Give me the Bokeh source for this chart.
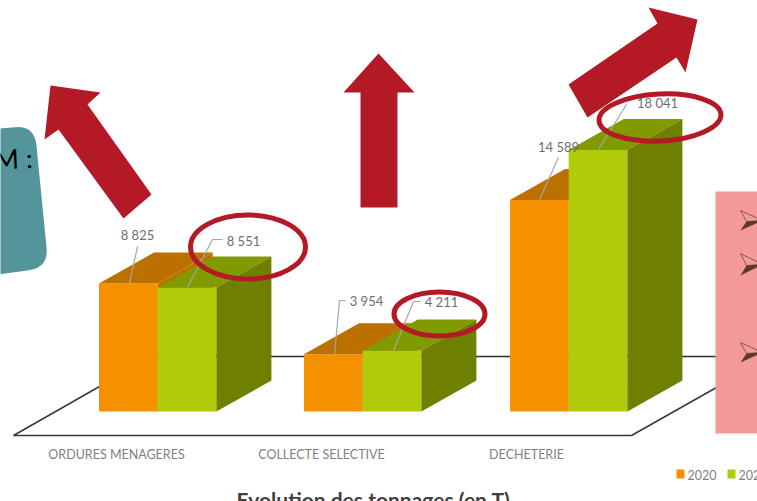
from bokeh.core.properties import value
from bokeh.embed import file_html
from bokeh.models import Range1d
from bokeh.plotting import figure
from bokeh.resources import INLINE
import numpy as np

# Tonnages per collection stream
categories = ["ORDURES MENAGERES", "COLLECTE SELECTIVE", "DECHETERIE"]
years = ["2020", "2021"]
tonnes_2020 = [8825, 3954, 14589]
tonnes_2021 = [8551, 4211, 18041]
labels_2020 = ["8 825", "3 954", "14 589"]
labels_2021 = ["8 551", "4 211", "18 041"]

# Layout of the sketched 3D columns, in canvas pixels
W, H = 757, 501
BASE_Y = 411
PX_PER_TONNE = 0.0145
BAR_LEFT = [98.5, 303.5, 509.5]
BAR_W = 58.7
DEPTH_X, DEPTH_Y = 55, 31
DEPTH_T = DEPTH_Y / PX_PER_TONNE

ORANGE, ORANGE_TOP = "#F59100", "#BC7000"
GREEN, GREEN_TOP, GREEN_SIDE = "#B0CC08", "#819A00", "#6F8000"
RED = "#B41A26"
GREY = "#7F7F7F"
FONT = value("Lato")

p = figure(width=W, height=H, x_range=Range1d(0, W), y_range=Range1d(H, 0),
           x_axis_type=None, y_axis_type=None, toolbar_location=None,
           output_backend="svg", min_border=0, outline_line_color=None,
           background_fill_color="white")
p.grid.visible = False
p.extra_y_ranges = {"t": Range1d(-(H - BASE_Y) / PX_PER_TONNE, BASE_Y / PX_PER_TONNE)}


def rounded(points, r):
    """Polygon outline with its corners replaced by quadratic curves."""
    xs, ys = [], []
    pts = [np.array(q, float) for q in points]
    for i, q in enumerate(pts):
        a, b = pts[i - 1], pts[(i + 1) % len(pts)]
        s = q + (a - q) / np.linalg.norm(a - q) * r
        e = q + (b - q) / np.linalg.norm(b - q) * r
        for t in np.linspace(0, 1, 12):
            c = (1 - t) ** 2 * s + 2 * t * (1 - t) * q + t ** 2 * e
            xs.append(c[0])
            ys.append(c[1])
    return xs, ys


# Floor of the chart
p.line([146, 768], [356, 356], line_color="#2E2E2E", line_width=1.6)
p.line([99, 13, 631, 716], [386, 435, 435, 387], line_color="#3A3A3A", line_width=1.6)


def column(left, tonnes, front, top, side):
    r = left + BAR_W
    p.vbar(x=[left + BAR_W / 2], width=BAR_W, bottom=0, top=[tonnes],
           fill_color=front, line_color=None, y_range_name="t")
    p.patch([left, r, r + DEPTH_X, left + DEPTH_X],
            [tonnes, tonnes, tonnes + DEPTH_T, tonnes + DEPTH_T],
            fill_color=top, line_color=None, y_range_name="t")
    p.patch([r, r + DEPTH_X, r + DEPTH_X, r],
            [0, DEPTH_T, tonnes + DEPTH_T, tonnes],
            fill_color=side, line_color=None, y_range_name="t")


for left, a, b in zip(BAR_LEFT, tonnes_2020, tonnes_2021):
    column(left, a, ORANGE, ORANGE_TOP, ORANGE_TOP)
    column(left + BAR_W, b, GREEN, GREEN_TOP, GREEN_SIDE)

# Value labels and their leader lines
leaders = [
    ([129, 137], [283, 246]),
    ([187, 212, 222], [287, 239, 239]),
    ([334, 339, 345], [354, 300, 300]),
    ([393, 413, 420], [350, 301, 301]),
    ([539, 558], [199, 157]),
    ([598, 626], [149, 104]),
]
for lx, ly in leaders:
    p.line(lx, ly, line_color="#A6A6A6", line_width=1.2)

label_x = [137, 243, 366, 441, 558, 657]
label_y = [234, 240, 300, 301, 146, 102]
label_text = [labels_2020[0], labels_2021[0], labels_2020[1], labels_2021[1], labels_2020[2], labels_2021[2]]
p.text(label_x, label_y, text=label_text, text_font=FONT, text_font_size="13px",
       text_color="#6E6E6E", text_align="center", text_baseline="middle")

p.text([116, 321, 526], [454, 454, 454], text=categories, text_font=FONT,
       text_font_size="12.5px", text_color=GREY, text_align="center", text_baseline="middle")

# Legend, running off the right edge
p.quad(left=[676, 727], right=[684, 735], top=[469, 469], bottom=[478, 478],
       fill_color=[ORANGE, GREEN], line_color=None)
p.text([687, 738], [474, 474], text=years, text_font=FONT, text_font_size="12.5px",
       text_color=GREY, text_align="left", text_baseline="middle")

# Title, cut by the bottom edge
p.text([373], [499], text=["Evolution des tonnages (en T)"], text_font=FONT,
       text_font_size="21px", text_font_style="bold", text_color="#404040",
       text_align="center", text_baseline="alphabetic")

# Side panels
tx, ty = rounded([(-25, 130), (34, 125), (48, 267), (-25, 277)], 20)
p.patch(tx, ty, fill_color="#54949B", line_color=None)
p.text([32], [157], text=["M :"], text_font=FONT, text_font_size="27px",
       text_color="black", text_align="right", text_baseline="middle", angle=[0.04])

p.quad(left=[715], right=[770], top=[191], bottom=[433], fill_color="#F59A9B", line_color=None)
for by, half in zip([220, 264, 352], [10, 11, 10]):
    p.patch([740, 762, 746], [by - half, by, by + 1], fill_color="#F59A9B",
            line_color="#8A5A4A", line_width=1)
    p.patch([746, 762, 740], [by + 1, by, by + half], fill_color="#5C3A24", line_color=None)

# Trend arrows
arrows = [
    ([50, 100, 87, 151, 123, 58, 44], [85, 92, 104, 194, 218, 129, 139]),
    ([378, 414, 397, 397, 360, 360, 343], [53, 92, 92, 207, 207, 92, 92]),
    ([697, 648, 657, 568, 587, 676, 685], [19, 7, 23, 84, 117, 57, 72]),
]
for ax, ay in arrows:
    p.patch(ax, ay, fill_color=RED, line_color=None)

# Circled 2021 values
p.ellipse([247.5, 439, 659.5], [246.5, 313.5, 117], width=[115, 91, 122], height=[64, 44, 47],
          angle=[0, 0, 0.05], fill_alpha=0, line_color=RED, line_width=5)

open("out.html", "w").write(file_html(p, INLINE))
